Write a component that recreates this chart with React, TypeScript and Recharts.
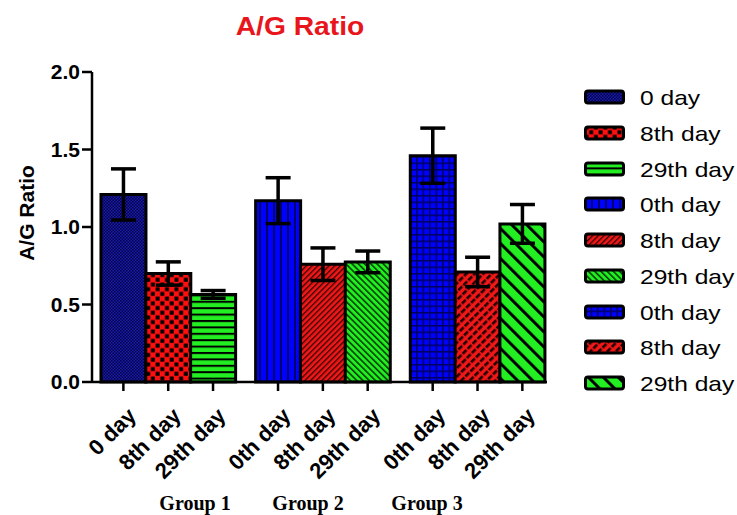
import React from 'react';
import { BarChart, Bar, XAxis, YAxis, Cell, ErrorBar } from 'recharts';

// ---- data ----
const categories = ['0 day', '8th day', '29th day', '0th day', '8th day', '29th day', '0th day', '8th day', '29th day'];
const groupNames = ['Group 1', 'Group 2', 'Group 3'];
const means = [1.21, 0.70, 0.565, 1.17, 0.76, 0.775, 1.46, 0.71, 1.02];
const sems = [0.165, 0.075, 0.025, 0.148, 0.105, 0.07, 0.178, 0.095, 0.125];
const yTicks = [0, 0.5, 1.0, 1.5, 2.0];

// ---- layout ----
const BARS_PER_GROUP = 3;
const GROUP_GAP = 0.45;
const data = categories.map((label, i) => ({
  label,
  pos: Math.floor(i / BARS_PER_GROUP) * (BARS_PER_GROUP + GROUP_GAP) + (i % BARS_PER_GROUP),
  mean: means[i],
  sem: sems[i],
}));
const patternIds = categories.map((_, i) => `pat${i}`);

const AXIS_FONT = '"Liberation Sans", Arial, sans-serif';

const XTick = (props: any) => {
  const { x, y, payload } = props;
  const idx = data.findIndex((d) => Math.abs(d.pos - payload.value) < 1e-6);
  const ax = x + 14;
  const ay = y + 24;
  return (
    <text
      x={ax}
      y={ay}
      textAnchor="end"
      transform={`rotate(-45 ${ax} ${ay})`}
      fontSize={22}
      fontWeight="bold"
      fontFamily={AXIS_FONT}
      fill="#000"
    >
      {idx >= 0 ? categories[idx] : ''}
    </text>
  );
};

const Patterns = () => (
  <svg width={0} height={0} style={{ position: 'absolute' }}>
    <defs>
      <pattern id="pat0" patternUnits="userSpaceOnUse" width={3} height={3}>
        <rect width={3} height={3} fill="#1c1ca8" />
        <rect width={1.5} height={1.5} fill="#000048" />
        <rect x={1.5} y={1.5} width={1.5} height={1.5} fill="#000048" />
      </pattern>
      <pattern id="pat1" patternUnits="userSpaceOnUse" width={9.4} height={9.4}>
        <rect width={9.4} height={9.4} fill="#ff1010" />
        <rect x={0.5} y={0.5} width={4} height={4} fill="#000" />
        <rect x={5.2} y={5.2} width={4} height={4} fill="#000" />
      </pattern>
      <pattern id="pat2" patternUnits="userSpaceOnUse" width={10} height={6.4}>
        <rect width={10} height={6.4} fill="#22ee22" />
        <rect y={0} width={10} height={2} fill="#000" />
      </pattern>
      <pattern id="pat3" patternUnits="userSpaceOnUse" width={7} height={10}>
        <rect width={7} height={10} fill="#0000ff" />
        <rect x={0} width={2} height={10} fill="#000070" />
      </pattern>
      <pattern id="pat4" patternUnits="userSpaceOnUse" width={4} height={4} patternTransform="rotate(45)">
        <rect width={4} height={4} fill="#f01818" />
        <rect width={1.3} height={4} fill="#300" />
      </pattern>
      <pattern id="pat5" patternUnits="userSpaceOnUse" width={4.4} height={4.4} patternTransform="rotate(-45)">
        <rect width={4.4} height={4.4} fill="#22ee22" />
        <rect width={1.5} height={4.4} fill="#030" />
      </pattern>
      <pattern id="pat6" patternUnits="userSpaceOnUse" width={6.5} height={6.5}>
        <rect width={6.5} height={6.5} fill="#0000ff" />
        <rect width={6.5} height={1.5} fill="#000060" />
        <rect width={1.5} height={6.5} fill="#000060" />
      </pattern>
      <pattern id="pat7" patternUnits="userSpaceOnUse" width={6} height={7} patternTransform="rotate(45)">
        <rect width={6} height={7} fill="#f01818" />
        <rect width={2.6} height={7} fill="#200" />
        <rect width={6} height={1.6} fill="#f01818" />
      </pattern>
      <pattern id="pat8" patternUnits="userSpaceOnUse" width={10.6} height={10.6} patternTransform="rotate(-45)">
        <rect width={10.6} height={10.6} fill="#22ee22" />
        <rect width={3} height={10.6} fill="#000" />
      </pattern>
    </defs>
  </svg>
);

const Legend = () => (
  <div style={{ position: 'absolute', left: 584, top: 0 }}>
    {categories.map((c, i) => {
      const cy = 97 + i * 35.75;
      return (
        <div key={i} style={{ position: 'absolute', left: 0, top: cy - 8, height: 16, width: 160 }}>
          <svg width={41} height={16} style={{ position: 'absolute', left: 0, top: 0 }}>
            <rect x={1.5} y={2} width={38} height={12} rx={2.5} fill={`url(#${patternIds[i]})`} stroke="#000" strokeWidth={3} />
          </svg>
          <div
            style={{
              position: 'absolute',
              left: 56,
              top: 8,
              transform: 'translateY(-50%) scaleX(1.17)',
              transformOrigin: 'left center',
              fontFamily: AXIS_FONT,
              fontSize: 21,
              lineHeight: '21px',
              whiteSpace: 'nowrap',
              color: '#000',
            }}
          >
            {c}
          </div>
        </div>
      );
    })}
  </div>
);

const groupLabelX = [195, 308, 427];

export default function App() {
  return (
    <div style={{ position: 'absolute', left: 0, top: 0, width: 737, height: 515, background: '#fff', overflow: 'hidden' }}>
      <Patterns />
      <div
        style={{
          position: 'absolute',
          left: 150,
          width: 300,
          top: 14,
          textAlign: 'center',
          fontFamily: AXIS_FONT,
          fontWeight: 'bold',
          fontSize: 25,
          lineHeight: '25px',
          color: '#e8161c',
          transform: 'scaleX(1.13)',
        }}
      >
        A/G Ratio
      </div>
      <div
        style={{
          position: 'absolute',
          left: 26,
          top: 213,
          transform: 'translate(-50%, -50%) rotate(-90deg)',
          fontFamily: AXIS_FONT,
          fontWeight: 'bold',
          fontSize: 21,
          lineHeight: '21px',
          whiteSpace: 'nowrap',
          color: '#000',
        }}
      >
        A/G Ratio
      </div>
      <BarChart
        width={737}
        height={515}
        data={data}
        margin={{ top: 72, right: 190, bottom: 33, left: 0 }}
        barCategoryGap={0}
        barGap={0}
      >
        <XAxis
          type="number"
          dataKey="pos"
          domain={[-0.7, 9.45]}
          ticks={data.map((d) => d.pos)}
          interval={0}
          height={100}
          tickSize={9}
          tickMargin={2}
          tick={<XTick />}
          axisLine={{ stroke: '#000', strokeWidth: 2.5 }}
          tickLine={{ stroke: '#000', strokeWidth: 2.5 }}
          allowDataOverflow
        />
        <YAxis
          type="number"
          domain={[0, 2]}
          ticks={yTicks}
          width={92}
          tickSize={10}
          tickMargin={2}
          tickFormatter={(v: number) => v.toFixed(1)}
          tick={{ fontSize: 21, fontWeight: 'bold', fill: '#000', fontFamily: AXIS_FONT }}
          axisLine={{ stroke: '#000', strokeWidth: 2.5 }}
          tickLine={{ stroke: '#000', strokeWidth: 2.5 }}
        />
        <Bar dataKey="mean" isAnimationActive={false} stroke="#000" strokeWidth={3}>
          {data.map((_, i) => (
            <Cell key={i} fill={`url(#${patternIds[i]})`} />
          ))}
          <ErrorBar dataKey="sem" width={12.5} strokeWidth={3.5} stroke="#000" direction="y" isAnimationActive={false} />
        </Bar>
      </BarChart>
      <Legend />
      {groupNames.map((g, i) => (
        <div
          key={g}
          style={{
            position: 'absolute',
            left: groupLabelX[i],
            top: 503,
            transform: 'translate(-50%, -50%)',
            fontFamily: '"Liberation Serif", "Times New Roman", serif',
            fontWeight: 'bold',
            fontSize: 20,
            lineHeight: '20px',
            whiteSpace: 'nowrap',
            color: '#000',
          }}
        >
          {g}
        </div>
      ))}
    </div>
  );
}
